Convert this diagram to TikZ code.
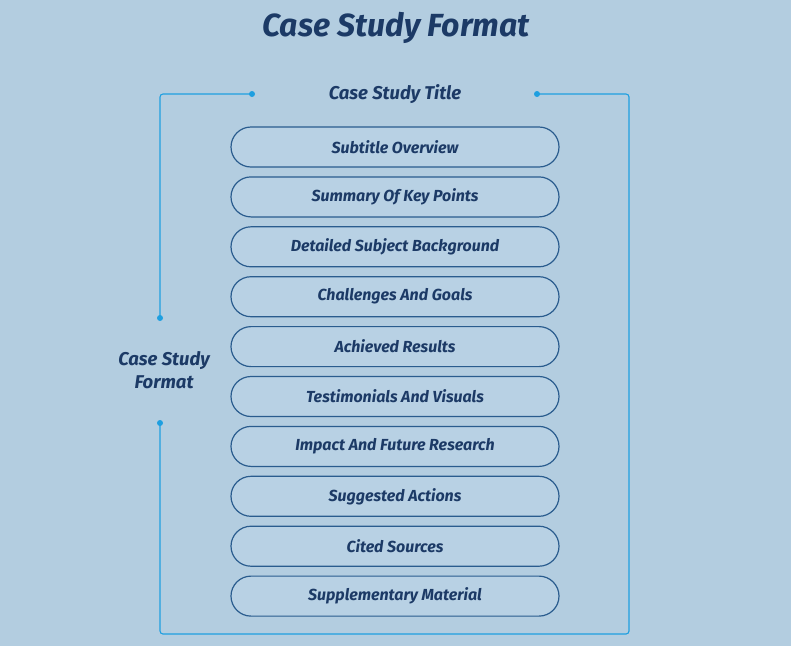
\documentclass[tikz,border=0pt]{standalone}
\usepackage{fontspec}
\setmainfont{Fira Sans}
\definecolor{bg}{HTML}{B3CDE0}
\definecolor{navy}{HTML}{1C3A66}
\definecolor{line}{HTML}{1E9FE0}
\definecolor{pillfill}{HTML}{B8D1E4}
\definecolor{pilledge}{HTML}{2A5C8E}
\tikzset{
 pill/.style={draw=pilledge, line width=1.2pt, fill=pillfill, rounded corners=20pt, minimum width=328pt, minimum height=40pt, text=navy, font=\fontsize{16}{18}\selectfont\bfseries\itshape},
 lbl/.style={text=navy, font=\fontsize{18.5}{23}\selectfont\bfseries\itshape, align=center},
 conn/.style={draw=line, line width=1.1pt, rounded corners=3pt},
 dot/.style={circle, fill=line, inner sep=0pt, minimum size=6pt}
}
\begin{document}
\begin{tikzpicture}[x=1pt,y=-1pt]
\fill[bg] (0,0) rectangle (791,646);
\useasboundingbox (0,0) rectangle (791,646);
\node[text=navy, font=\fontsize{32}{38}\selectfont\bfseries\itshape] (title) at (396,28) {Case Study Format};
\node[lbl] (cst) at (395,94) {Case Study Title};
\node[lbl] (csf) at (164,370) {Case Study\\Format};
\foreach \t [count=\i] in {Subtitle Overview,Summary Of Key Points,Detailed Subject Background,Challenges And Goals,Achieved Results,Testimonials And Visuals,Impact And Future Research,Suggested Actions,Cited Sources,Supplementary Material}
  \node[pill] (p\i) at (395,{147+(\i-1)*49.9}) {\t};
\node[dot] (d1) at (252,94) {};
\node[dot] (d2) at (537,94) {};
\node[dot] (d3) at (160,318) {};
\node[dot] (d4) at (160,423) {};
\coordinate (c1) at (160,94);
\coordinate (c2) at (629,94);
\coordinate (c3) at (629,634);
\coordinate (c4) at (160,634);
\draw[conn] (d1.center) -- (c1) -- (d3.center);
\draw[conn] (d2.center) -- (c2) -- (c3) -- (c4) -- (d4.center);
\end{tikzpicture}
\end{document}
